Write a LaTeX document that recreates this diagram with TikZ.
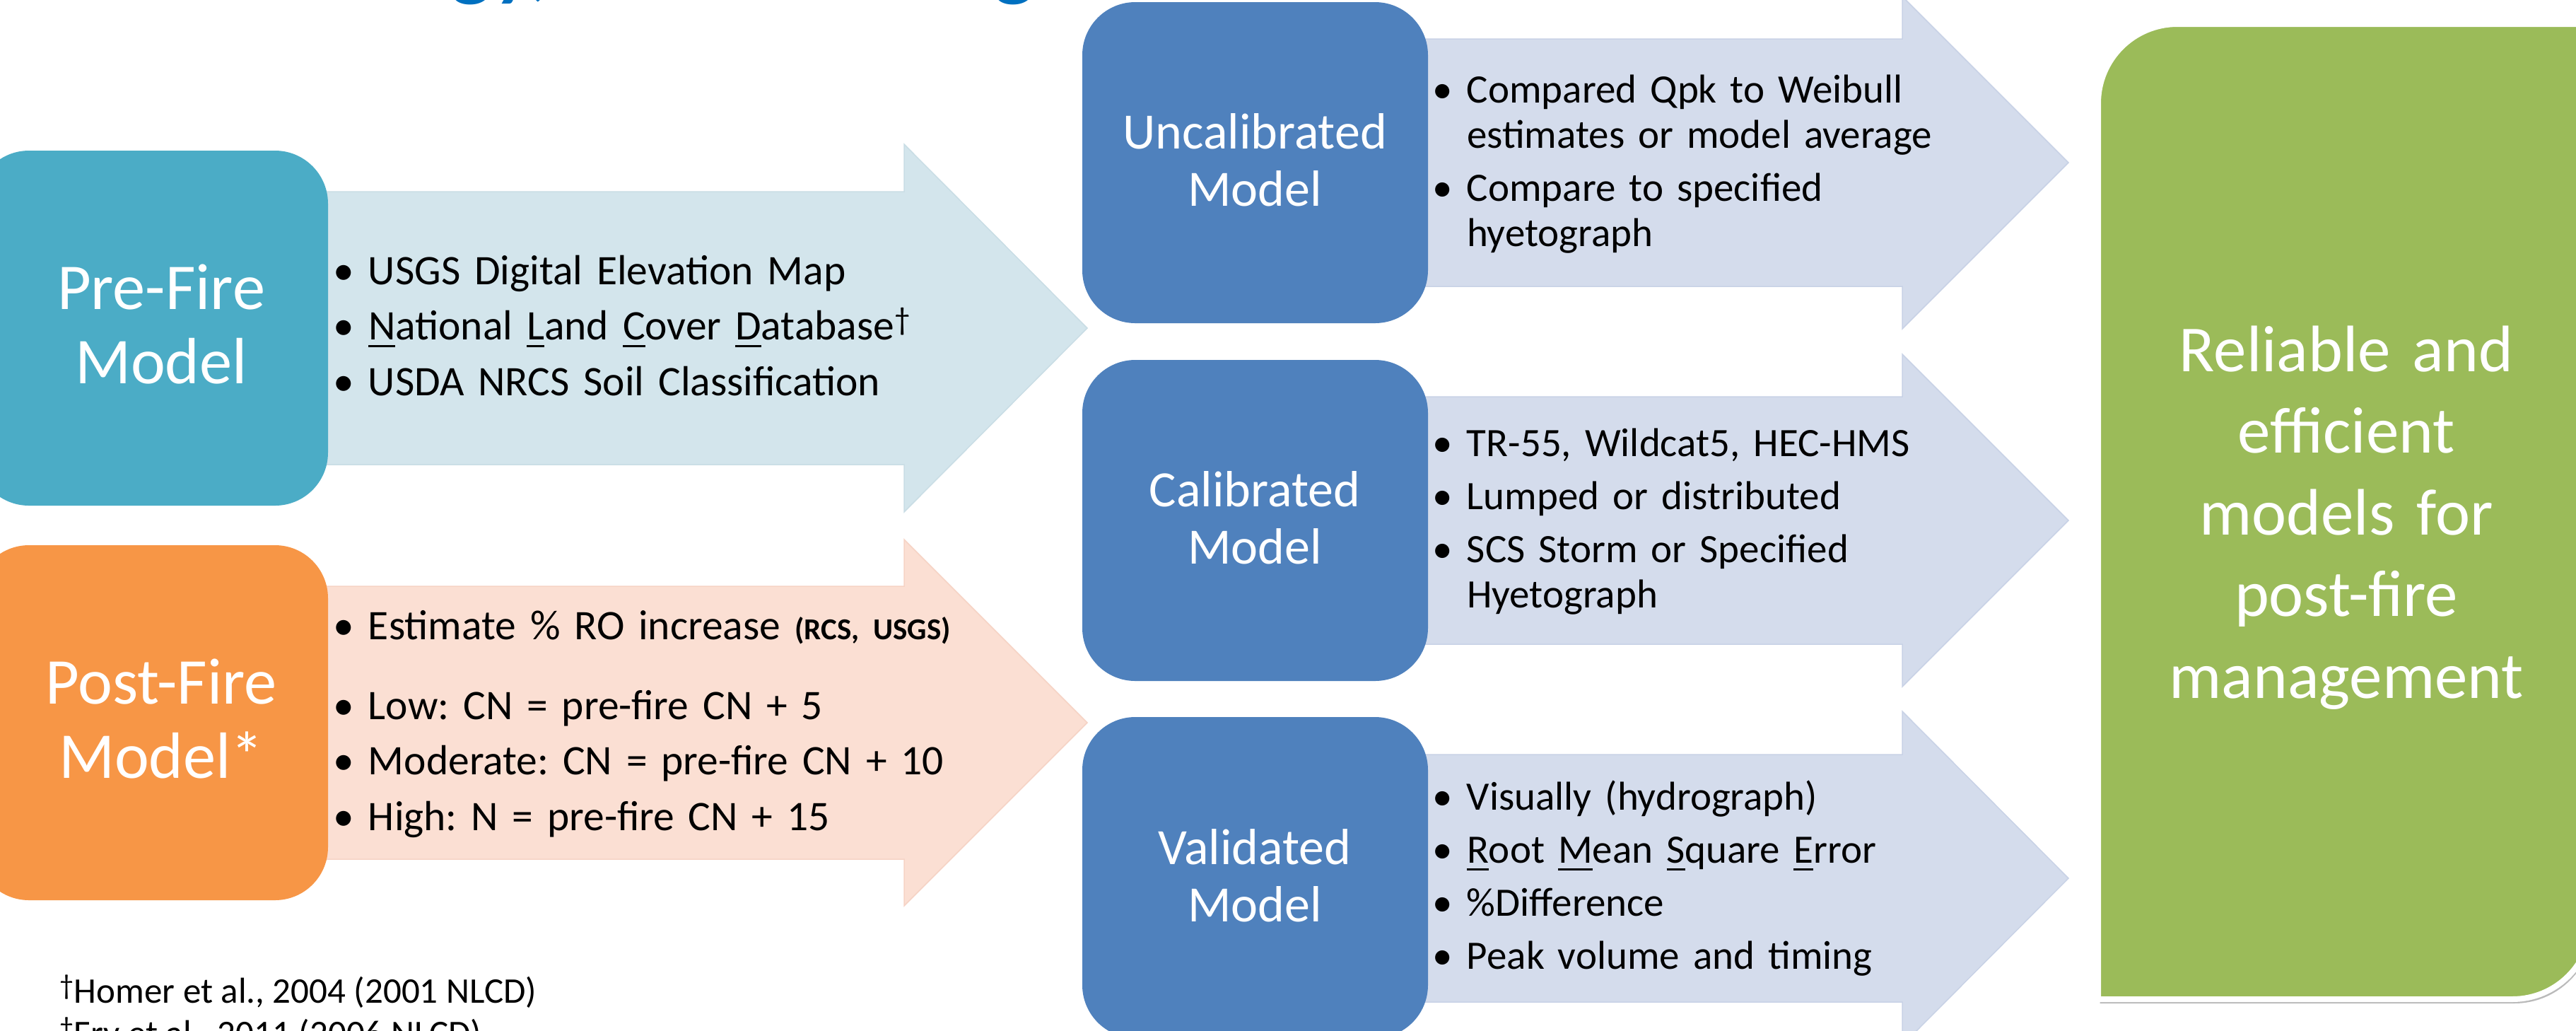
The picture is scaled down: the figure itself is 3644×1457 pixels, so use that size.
\documentclass[tikz,border=0pt]{standalone}
\usepackage{fontspec}
\setmainfont{Carlito}
\usetikzlibrary{shadows}
\frenchspacing
\definecolor{cteal}{HTML}{4BACC6}
\definecolor{corange}{HTML}{F79646}
\definecolor{cblue}{HTML}{4F81BD}
\definecolor{cgreen}{HTML}{9BBB59}
\definecolor{ctitle}{HTML}{0070C0}
\definecolor{ateal}{HTML}{D3E5EC}
\definecolor{ateald}{HTML}{C9DDE5}
\definecolor{apeach}{HTML}{FBDFD3}
\definecolor{apeachd}{HTML}{F6D3C5}
\definecolor{ablue}{HTML}{D4DCEC}
\definecolor{ablued}{HTML}{C8D2E6}
\newcommand\ulet[1]{\leavevmode\setbox0\hbox{#1}\rlap{\rule[-0.19em]{\wd0}{0.055em}}\box0}
\newcommand\dg[1]{\raisebox{0.22em}{\fontsize{#1}{#1}\selectfont †}}
\newcommand\bu{\leavevmode\llap{•\hspace{4pt}}}
\newcommand\blockarr[7]{\path[#1] (#2,#3-#4) -- (#5,#3-#4) -- (#5,#3-#6) -- (#7,#3) -- (#5,#3+#6) -- (#5,#3+#4) -- (#2,#3+#4) -- cycle;}
\begin{document}
\begin{tikzpicture}[x=0.2pt,y=-0.2pt,
  mbox/.style={rectangle, rounded corners=15pt, inner sep=0pt, minimum width=97.8pt, minimum height=90.8pt, fill=cblue},
  bigbox/.style={mbox, minimum width=99.6pt, minimum height=100.4pt},
  arrteal/.style={fill=ateal, draw=ateald, line width=0.3pt},
  arrpeach/.style={fill=apeach, draw=apeachd, line width=0.3pt},
  arrblue/.style={fill=ablue, draw=ablued, line width=0.3pt},
  ttl/.style={inner sep=0pt, anchor=base, text width=110pt, align=center, text=white, font=\fontsize{18.5pt}{21pt}\selectfont},
  ttls/.style={ttl, font=\fontsize{14.4pt}{16.3pt}\selectfont},
  itm/.style={inner sep=0pt, anchor=base west, text width=220pt, align=left, font=\fontsize{11.9pt}{13pt}\selectfont},
  itms/.style={itm, font=\fontsize{11.4pt}{12.9pt}\selectfont},
  fnote/.style={inner sep=0pt, anchor=base west, font=\fontsize{10.2pt}{12pt}\selectfont}
]
\useasboundingbox (0,0) rectangle (3644,1457);
\clip (0,0) rectangle (3644,1457);
\fill[white] (0,0) rectangle (3644,1457);

% title fragment (cut off at the top)
\node[inner sep=0pt, anchor=base west, text=ctitle, font=\fontsize{23pt}{25pt}\selectfont\bfseries\itshape] (title) at (115,-13) {Methodology, and Modeling};

% block arrows
\blockarr{arrteal}{215}{464}{193}{1279}{260}{1538}
\blockarr{arrpeach}{215}{1022}{193}{1279}{259}{1538}
\blockarr{arrblue}{1775}{230}{175}{2691}{235}{2926}
\blockarr{arrblue}{1775}{736}{175}{2691}{235}{2926}
\blockarr{arrblue}{1775}{1242}{175}{2691}{236}{2926}

% boxes
\node[bigbox, fill=cteal] (pre) at (215,464) {};
\node[bigbox, fill=corange] (post) at (215,1022) {};
\node[mbox] (unc) at (1775.5,230) {};
\node[mbox] (cal) at (1775.5,736) {};
\node[mbox] (val) at (1775.5,1241) {};

% goal box
\path[fill=cgreen, draw=white, line width=1.6pt, drop shadow={shadow xshift=0.5pt, shadow yshift=-1.2pt, opacity=0.45, fill=black!60}]
  (2968,1413) -- (2968,146) arc[start angle=180,end angle=270,radius=112] -- (3666,34)
  -- (3666,1301) arc[start angle=0,end angle=90,radius=112] -- cycle;

% box titles
\node[ttl] (pre-t) at (228,437) {Pre-Fire\\Model};
\node[ttl] (post-t) at (228,995) {Post-Fire\\Model*};
\node[ttls] (unc-t) at (1775,210) {Uncalibrated\\Model};
\node[ttls] (cal-t) at (1775,716) {Calibrated\\Model};
\node[ttls] (val-t) at (1775,1222) {Validated\\Model};
\node[ttl, text width=140pt, font=\fontsize{18.6pt}{23.1pt}\selectfont] (goal-t) at (3319,525) {Reliable and\\efficient\\models for\\post-fire\\management};

% pre-fire items
\node[itm] (p1) at (520,402) {\bu USGS Digital Elevation Map};
\node[itm] (p2) at (520,480) {\bu\ulet{N}ational \ulet{L}and \ulet{C}over \ulet{D}atabase\dg{9pt}};
\node[itm] (p3) at (520,559) {\bu USDA NRCS Soil Classification};

% post-fire items
\node[itm] (q1) at (520,904) {\bu Estimate \% RO increase {\fontsize{8.6pt}{9pt}\selectfont\bfseries (RCS, USGS)}};
\node[itm] (q2) at (520,1017) {\bu Low: CN = pre-fire CN + 5};
\node[itm] (q3) at (520,1095) {\bu Moderate: CN = pre-fire CN + 10};
\node[itm] (q4) at (520,1174) {\bu High: N = pre-fire CN + 15};

% uncalibrated items
\node[itms] (u1) at (2074,145) {\bu Compared Qpk to Weibull\\estimates or model average};
\node[itms] (u2) at (2074,284) {\bu Compare to specified\\hyetograph};

% calibrated items
\node[itms] (c1) at (2074,645) {\bu TR-55, Wildcat5, HEC-HMS};
\node[itms] (c2) at (2074,720) {\bu Lumped or distributed};
\node[itms] (c3) at (2074,795) {\bu SCS Storm or Specified\\Hyetograph};

% validated items
\node[itms] (v1) at (2074,1145) {\bu Visually (hydrograph)};
\node[itms] (v2) at (2074,1220) {\bu\ulet{R}oot \ulet{M}ean \ulet{S}quare \ulet{E}rror};
\node[itms] (v3) at (2074,1295) {\bu\%Difference};
\node[itms] (v4) at (2074,1370) {\bu Peak volume and timing};

% footnotes
\node[fnote] (n1) at (84,1418) {\dg{8pt}Homer et al., 2004 (2001 NLCD)};
\node[fnote] (n2) at (84,1478) {\dg{8pt}Fry et al., 2011 (2006 NLCD)};
\end{tikzpicture}
\end{document}
